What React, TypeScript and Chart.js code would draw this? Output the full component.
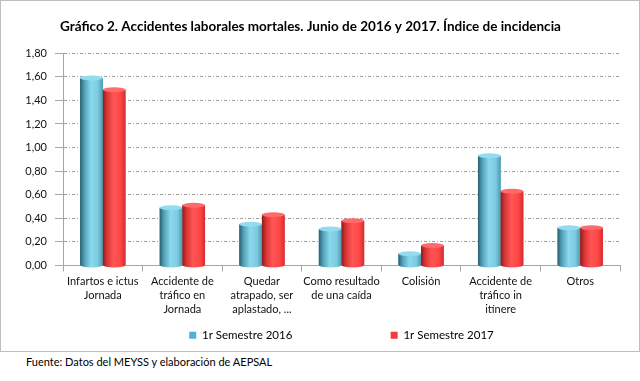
import React, { useEffect, useRef } from "react";
import { Chart, registerables } from "chart.js";

Chart.register(...registerables);

const titleText =
  "Gráfico 2. Accidentes laborales mortales. Junio de 2016 y 2017. Índice de incidencia";
const sourceText = "Fuente: Datos del MEYSS y elaboración de AEPSAL";

const categories: string[][] = [
  ["Infartos e ictus", "Jornada"],
  ["Accidente de", "tráfico en", "Jornada"],
  ["Quedar", "atrapado, ser", "aplastado, ..."],
  ["Como resultado", "de una caída"],
  ["Colisión"],
  ["Accidente de", "tráfico in", "itínere"],
  ["Otros"],
];

const seriesNames = ["1r Semestre 2016", "1r Semestre 2017"];
const values2016 = [1.59, 0.49, 0.35, 0.31, 0.1, 0.93, 0.32];
const values2017 = [1.49, 0.51, 0.43, 0.38, 0.17, 0.63, 0.32];

const yMin = 0;
const yMax = 1.8;
const yStep = 0.2;

const FONT = "Lato, 'Open Sans', sans-serif";

const palettes = [
  {
    base: "#4fb3cf",
    cap: "#93dbee",
    stops: [
      [0, "#2a5e6d"],
      [0.18, "#4f9fb6"],
      [0.48, "#8ad8ec"],
      [0.78, "#7ccbe1"],
      [1, "#4b9ab0"],
    ] as [number, string][],
  },
  {
    base: "#f23b3b",
    cap: "#ff6a6a",
    stops: [
      [0, "#8c1b1b"],
      [0.18, "#d83434"],
      [0.48, "#ff5656"],
      [0.78, "#ff4646"],
      [1, "#d22e2e"],
    ] as [number, string][],
  },
];

const cylinderPlugin = {
  id: "cylinders",
  afterDatasetsDraw(chart: any) {
    const ctx: CanvasRenderingContext2D = chart.ctx;
    chart.data.datasets.forEach((_ds: any, di: number) => {
      const meta = chart.getDatasetMeta(di);
      const pal = palettes[di];
      meta.data.forEach((el: any) => {
        const { x, y, base, width } = el.getProps(["x", "y", "base", "width"], true);
        const l = x - width / 2;
        const r = x + width / 2;
        const ry = 2.5;
        const g = ctx.createLinearGradient(l, 0, r, 0);
        pal.stops.forEach(([o, c]) => g.addColorStop(o, c));
        ctx.save();
        ctx.fillStyle = g;
        ctx.beginPath();
        ctx.moveTo(l, y);
        ctx.lineTo(l, base);
        ctx.ellipse(x, base, width / 2, ry, 0, Math.PI, 0, true);
        ctx.lineTo(r, y);
        ctx.closePath();
        ctx.fill();
        ctx.beginPath();
        ctx.ellipse(x, y, width / 2, ry, 0, 0, Math.PI * 2);
        ctx.fillStyle = pal.cap;
        ctx.fill();
        ctx.restore();
      });
    });
  },
};

export default function App() {
  const canvasRef = useRef<HTMLCanvasElement | null>(null);

  useEffect(() => {
    document.body.style.margin = "0";
    const canvas = canvasRef.current;
    if (!canvas) return;
    const chart = new Chart(canvas, {
      type: "bar",
      data: {
        labels: categories,
        datasets: [
          {
            label: seriesNames[0],
            data: values2016,
            backgroundColor: palettes[0].base,
            borderWidth: 0,
            categoryPercentage: 0.57,
            barPercentage: 1.0,
          },
          {
            label: seriesNames[1],
            data: values2017,
            backgroundColor: palettes[1].base,
            borderWidth: 0,
            categoryPercentage: 0.57,
            barPercentage: 1.0,
          },
        ],
      },
      options: {
        responsive: false,
        animation: false,
        devicePixelRatio: 1,
        layout: { padding: { left: 0, right: 19, top: 0, bottom: 0 } },
        plugins: {
          title: {
            display: true,
            text: titleText,
            color: "#000",
            font: { family: FONT, size: 13.5, weight: "bold" },
            padding: { top: 18, bottom: 18 },
          },
          legend: {
            position: "bottom",
            fullSize: false,
            labels: {
              boxWidth: 7,
              boxHeight: 7,
              padding: 10,
              color: "#000",
              font: { family: FONT, size: 11.5 },
              generateLabels(chart: any) {
                const items = (Chart.defaults.plugins.legend.labels as any).generateLabels(chart);
                items.forEach((it: any) => {
                  it.lineWidth = 0;
                });
                items[0].text = items[0].text + " ".repeat(30);
                return items;
              },
            },
          },
          tooltip: { enabled: false },
        },
        scales: {
          x: {
            grid: {
              display: true,
              drawOnChartArea: false,
              drawTicks: true,
              tickLength: 6,
              color: "#a6a6a6",
              offset: true,
            },
            border: { display: true, color: "#a6a6a6", width: 1 },
            ticks: {
              color: "#111",
              padding: 3,
              maxRotation: 0,
              autoSkip: false,
              font: { family: FONT, size: 11, lineHeight: 1.27 },
            },
            afterFit(scale: any) {
              scale.height = 54;
            },
          },
          y: {
            min: yMin,
            max: yMax,
            grid: {
              color: (c: any) => (c.tick && c.tick.value === 0 ? "#b0b0b0" : "#9c9c9c"),
              tickLength: 8,
              tickColor: "#a6a6a6",
            },
            border: { display: true, color: "#a6a6a6", width: 1, dash: [3, 2, 1, 2] },
            ticks: {
              stepSize: yStep,
              color: "#111",
              padding: 8,
              font: { family: FONT, size: 11 },
              callback: (v: any) => Number(v).toFixed(2).replace(".", ","),
            },
            afterFit(scale: any) {
              scale.width = 62;
            },
          },
        },
      },
      plugins: [cylinderPlugin],
    } as any);
    return () => chart.destroy();
  }, []);

  return (
    <div
      style={{
        position: "absolute",
        left: 0,
        top: 0,
        width: 640,
        height: 381,
        background: "#fff",
      }}
    >
      <div
        style={{
          position: "absolute",
          left: 0,
          top: 0,
          width: 638,
          height: 350,
          border: "1px solid #bfbfbf",
        }}
      >
        <canvas ref={canvasRef} width={638} height={350} style={{ display: "block" }} />
      </div>
      <div
        style={{
          position: "absolute",
          left: 26,
          top: 355,
          fontFamily: FONT,
          fontSize: 11,
          color: "#000",
          whiteSpace: "nowrap",
        }}
      >
        {sourceText}
      </div>
    </div>
  );
}
